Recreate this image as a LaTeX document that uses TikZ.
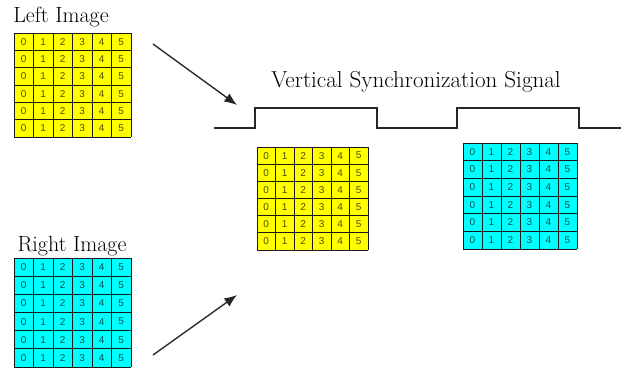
\documentclass[tikz,border=0pt]{standalone}
\usepackage{fontspec}
\newfontfamily\gridfont{Liberation Sans}
\usetikzlibrary{arrows.meta}
\definecolor{imgyellow}{HTML}{FFFF00}
\definecolor{imgcyan}{HTML}{00FFFF}
\tikzset{
  gridline/.style={draw=black!90, line width=0.75pt},
  digit/.style={font=\gridfont\fontsize{7.5}{8}\selectfont, text=black, text opacity=0.7, inner sep=0pt},
  label/.style={font=\rmfamily\fontsize{16.5}{19}\selectfont, inner sep=0pt},
  sigline/.style={draw=black!85, line width=1.1pt},
  bigarrow/.style={draw=black!85, line width=1pt, -{Latex[length=9.5pt,width=7.5pt]}}
}
\newcommand\imggrid[6]{%
  \pgfmathsetmacro\gw{(#3-#1)/6}%
  \pgfmathsetmacro\gh{(#4-#2)/6}%
  \fill[#5] (#1,#2) rectangle (#3,#4);
  \coordinate (#6) at ({(#1+#3)/2},{(#2+#4)/2});
  \foreach \i in {0,...,5}{%
    \foreach \j in {0,...,5}{%
      \node[digit] at ({#1+(\i+0.5)*\gw},{#2+(\j+0.5)*\gh}) {\i};
    }}
  \foreach \k in {0,...,6}{%
    \draw[gridline] ({#1+\k*\gw},#2) -- ({#1+\k*\gw},#4);
    \draw[gridline] (#1,{#2+\k*\gh}) -- (#3,{#2+\k*\gh});
  }
}
\begin{document}
\begin{tikzpicture}[x=0.75pt,y=-0.75pt]
\useasboundingbox (0,0) rectangle (625,369);
\fill[white] (0,0) rectangle (625,369);

% labels
\node[label] (lefttitle) at (61,17) {Left Image};
\node[label] (righttitle) at (72,246) {Right Image};
\node[label, font=\rmfamily\fontsize{17.3}{20}\selectfont] (vsync) at (416,82) {Vertical Synchronization Signal};

% grids
\imggrid{14}{33}{131}{137}{imgyellow}{leftgrid}
\imggrid{14}{258}{131}{367}{imgcyan}{rightgrid}
\imggrid{257}{147}{368}{250}{imgyellow}{midgrid}
\imggrid{463}{143}{577}{249}{imgcyan}{endgrid}

% vertical sync signal
\draw[sigline] (214,128) -- (255,128) -- (255,108) -- (377,108) -- (377,128)
  -- (457,128) -- (457,108) -- (579,108) -- (579,128) -- (621,128);

% arrows
\coordinate (la0) at (153,44);
\coordinate (la1) at (237,105);
\coordinate (ra0) at (153,355);
\coordinate (ra1) at (237,295);
\draw[bigarrow] (la0) -- (la1);
\draw[bigarrow] (ra0) -- (ra1);
\end{tikzpicture}
\end{document}
